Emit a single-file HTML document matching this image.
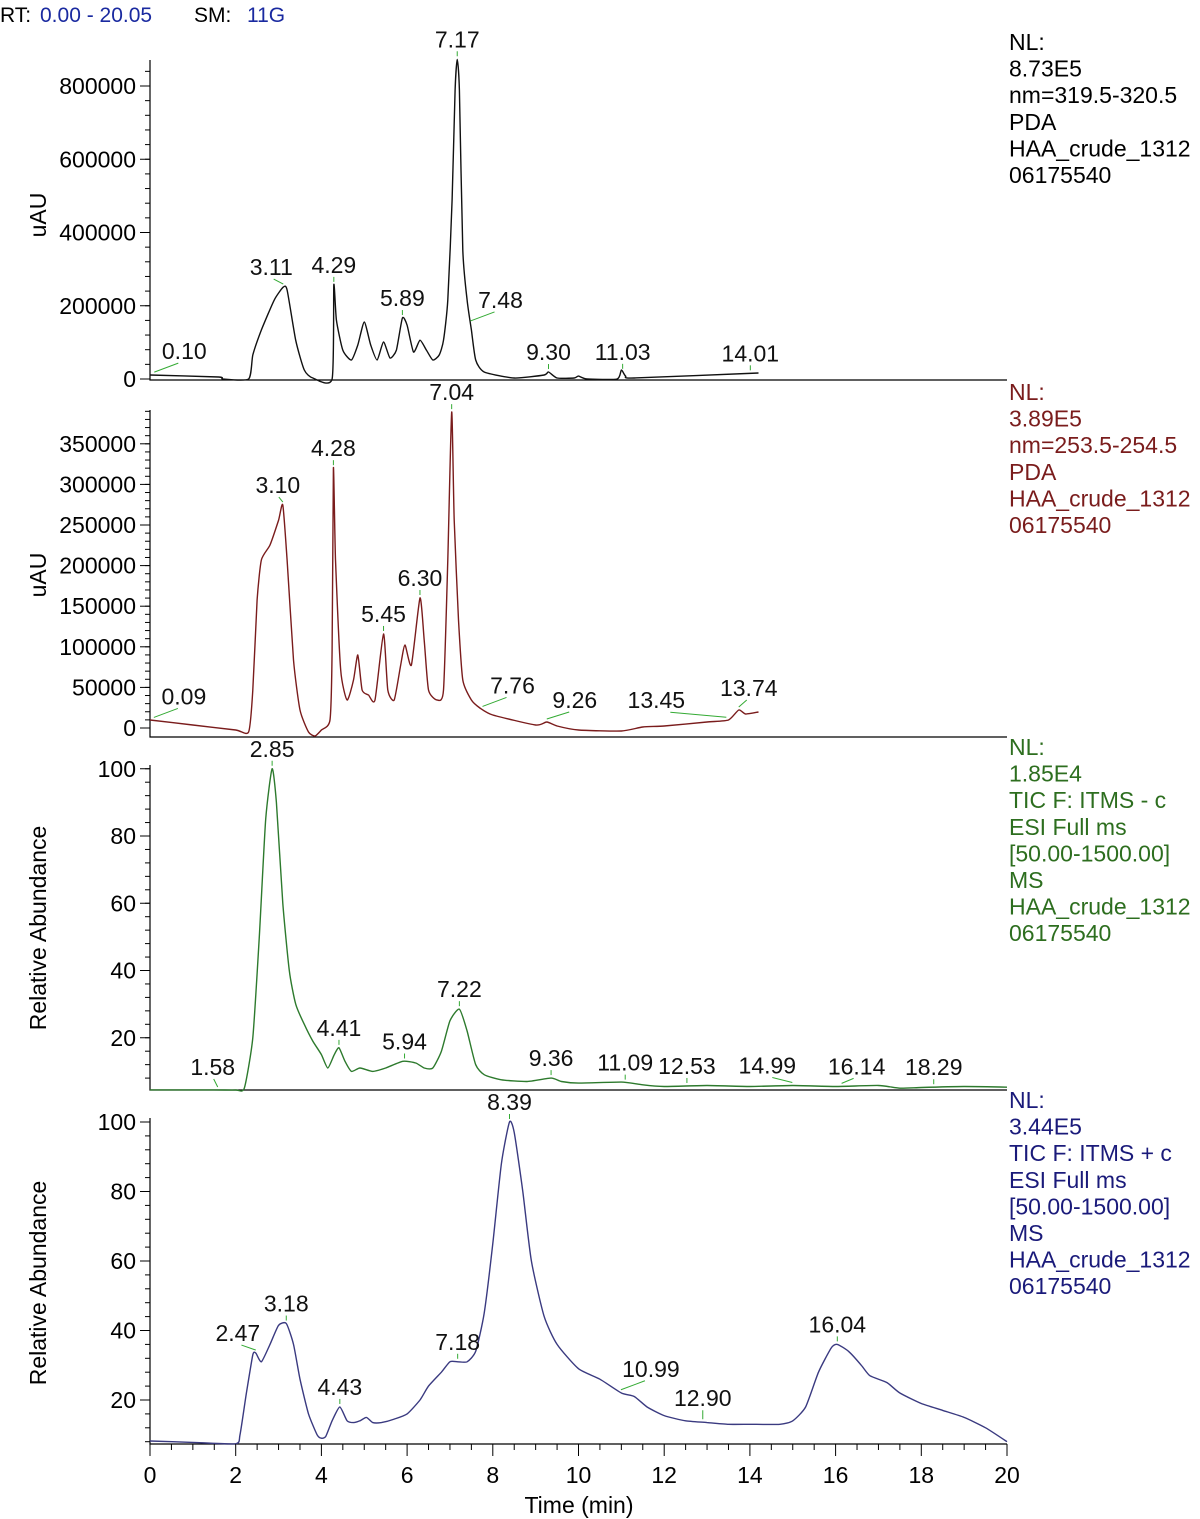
<!DOCTYPE html>
<html><head><meta charset="utf-8"><style>
html,body{margin:0;padding:0;background:#fff;}
svg{display:block;font-family:"Liberation Sans",sans-serif;}
</style></head><body>
<svg id="chart" width="1200" height="1519" viewBox="0 0 1200 1519" xmlns="http://www.w3.org/2000/svg">
<g font-size="21">
<text x="0" y="22" fill="#000">RT:</text><text x="40" y="22" fill="#1a2aa0">0.00 - 20.05</text>
<text x="194" y="22" fill="#000">SM:</text><text x="247" y="22" fill="#1a2aa0">11G</text>
</g>
<g id="g"></g>
</svg>
<script>
// ---- data ----
const trace1T=[0,1.6,1.7,2.3,2.4,2.6,2.9,3.11,3.2,3.4,3.6,3.8,4.25,4.29,4.35,4.5,4.7,4.85,5.0,5.15,5.3,5.45,5.6,5.75,5.89,6.0,6.15,6.3,6.45,6.6,6.75,6.85,6.95,7.05,7.12,7.17,7.22,7.3,7.4,7.5,7.6,7.8,8.5,9.2,9.3,9.5,9.9,10.0,10.2,10.9,11.0,11.1,11.3,14.2];
const trace1V=[11000,5500,0,0,65500,134000,216000,251000,243000,106000,24500,2700,0,257000,161000,79000,51900,92800,155600,92800,51900,101000,57300,79000,166500,147000,73700,106000,79000,51900,65500,106000,216000,488700,789000,873000,789000,352000,216000,134000,51900,19000,2700,11000,19000,2700,2700,8000,0,0,24500,8000,2700,16400];
const trace2T=[0,1,2,2.3,2.4,2.5,2.6,2.8,3.0,3.1,3.2,3.35,3.5,3.7,3.85,4.0,4.2,4.25,4.28,4.33,4.45,4.6,4.75,4.85,4.95,5.1,5.25,5.45,5.55,5.7,5.85,5.95,6.1,6.3,6.4,6.5,6.7,6.85,6.95,7.04,7.1,7.2,7.3,7.5,7.7,8,9,9.26,9.5,10,11,11.5,12,13,13.5,13.74,13.9,14.2];
const trace2V=[9850,3700,-2500,-4900,46800,157600,207000,225400,256000,274600,207000,83700,22200,-4900,-9850,-2500,9850,96000,320000,207000,71400,34500,59100,89900,46800,40600,34500,115800,46800,34500,77600,102200,77600,160100,108000,46800,34500,46800,207000,389000,256000,133000,59100,34500,24600,16000,3700,7400,2500,-2500,-3700,1230,2500,7400,9850,22200,17200,19700];
const trace3T=[0,1.5,2.0,2.2,2.4,2.55,2.7,2.85,2.95,3.1,3.25,3.4,3.6,3.8,4.0,4.15,4.3,4.41,4.55,4.7,4.9,5.2,5.5,5.9,6.2,6.4,6.6,6.8,7.0,7.22,7.4,7.6,7.8,8.2,8.8,9.36,9.6,10,11,11.5,12,13,14,15,16,17,17.5,18,19,20];
const trace3V=[4.5,4.5,4.3,5,20,50,85,100,90,60,40,30,24,19,15,11,15,17,13,10,11,10,11,13,12.5,11,11,16,25,28.5,22,12,9,7.5,7,8,7,6.5,6.8,6,5.5,5.8,5.5,5.8,5.5,5.8,5,5.2,5.5,5.3];
const trace4T=[0,1,2,2.1,2.25,2.4,2.47,2.6,2.8,3.0,3.18,3.35,3.5,3.7,3.9,4.0,4.1,4.25,4.43,4.6,4.75,4.9,5.05,5.2,5.4,5.7,6.0,6.3,6.5,6.8,7.0,7.18,7.4,7.6,7.8,8.0,8.2,8.39,8.5,8.7,8.9,9.2,9.5,10,10.5,11,11.3,11.6,12,12.5,13,13.5,14,14.7,15,15.3,15.6,15.9,16.04,16.3,16.6,16.8,17.2,17.5,18,18.5,19,19.5,20];
const trace4V=[8.2,7.8,7.4,10,22,33,33.5,31,36,41.5,42,36,26,16,10,9,9.5,14,18,14,13.5,14,15,13.5,13.5,14.5,16,20,24,28,31,31,31,34,45,65,88,100,97,80,60,44,36,29,26,22,21,18,15.5,14,13.5,13,13,13,14,18,28,35,36,34,30,27,25,22,19,17,15,12,8];
const labels1=["0.10","3.11","4.29","5.89","7.17","7.48","9.30","11.03","14.01"];
const labels2=["0.09","3.10","4.28","5.45","6.30","7.04","7.76","9.26","13.45","13.74"];
const labels3=["1.58","2.85","4.41","5.94","7.22","9.36","11.09","12.53","14.99","16.14","18.29"];
const labels4=["2.47","3.18","4.43","7.18","8.39","10.99","12.90","16.04"];
const xTicks=[0,2,4,6,8,10,12,14,16,18,20];
const ticks1=[0,200000,400000,600000,800000];
const ticks2=[0,50000,100000,150000,200000,250000,300000,350000];
const ticks3=[20,40,60,80,100];
const ticks4=[20,40,60,80,100];
const info1=["NL:","8.73E5","nm=319.5-320.5","PDA","HAA_crude_1312","06175540"];
const info2=["NL:","3.89E5","nm=253.5-254.5","PDA","HAA_crude_1312","06175540"];
const info3=["NL:","1.85E4","TIC F: ITMS - c","ESI Full ms","[50.00-1500.00]","MS","HAA_crude_1312","06175540"];
const info4=["NL:","3.44E5","TIC F: ITMS + c","ESI Full ms","[50.00-1500.00]","MS","HAA_crude_1312","06175540"];
// label nudges (px) to avoid overlap, keyed by label text
const nudge={"7.48":[30,-4],"13.45":[-70,0],"13.74":[10,-2],"0.10":[30,-4],"0.09":[30,-4],"7.76":[30,-4],"9.26":[28,-2],"14.99":[-25,0],"16.14":[15,0],"10.99":[30,-4],"12.90":[0,-4],"2.47":[-18,0],"1.58":[-5,-3],"3.11":[-12,0],"3.10":[-5,0]};
// ---- drawing ----
const NS="http://www.w3.org/2000/svg";
const G=document.getElementById('g');
function el(tag,attrs,parent){const e=document.createElementNS(NS,tag);for(const k in attrs)e.setAttribute(k,attrs[k]);(parent||G).appendChild(e);return e;}
const X0=150,X1=1007,FS=23;
function xs(t){return X0+(X1-X0)*t/20;}
const panels=[
 {T:trace1T,V:trace1V,labels:labels1,ticks:ticks1,info:info1,color:"#111",infoColor:"#000",top:60,bottom:380,y0:379,yPer:73.25/200000,minor:40000,title:"uAU",titleY:215,name:"pda-320nm"},
 {T:trace2T,V:trace2V,labels:labels2,ticks:ticks2,info:info2,color:"#7a1c1c",infoColor:"#7a1c1c",top:410,bottom:737,y0:728,yPer:40.6/50000,minor:10000,title:"uAU",titleY:575,name:"pda-254nm"},
 {T:trace3T,V:trace3V,labels:labels3,ticks:ticks3,info:info3,color:"#2d7a2d",infoColor:"#2d6e1f",top:765,bottom:1090,y0:1105,yPer:3.3625,minor:4,title:"Relative Abundance",titleY:928,name:"tic-negative"},
 {T:trace4T,V:trace4V,labels:labels4,ticks:ticks4,info:info4,color:"#3a3a80",infoColor:"#1a1a7a",top:1118,bottom:1444,y0:1469.5,yPer:3.475,minor:4,title:"Relative Abundance",titleY:1283,name:"tic-positive"}
];
function interp(T,V,t){for(let i=0;i<T.length-1;i++){if(t>=T[i]&&t<=T[i+1]){const f=(t-T[i])/((T[i+1]-T[i])||1);return V[i]+f*(V[i+1]-V[i]);}}return V[V.length-1];}
function smooth(P){let d="M"+P[0][0].toFixed(1)+","+P[0][1].toFixed(1);const k=0.1;
 for(let i=0;i<P.length-1;i++){const p0=P[Math.max(0,i-1)],p1=P[i],p2=P[i+1],p3=P[Math.min(P.length-1,i+2)];
  const c1=[p1[0]+(p2[0]-p0[0])*k,p1[1]+(p2[1]-p0[1])*k],c2=[p2[0]-(p3[0]-p1[0])*k,p2[1]-(p3[1]-p1[1])*k];
  d+="C"+c1[0].toFixed(1)+","+c1[1].toFixed(1)+" "+c2[0].toFixed(1)+","+c2[1].toFixed(1)+" "+p2[0].toFixed(1)+","+p2[1].toFixed(1);}
 return d;}
panels.forEach((p,pi)=>{
 const g=el('g',{});
 
 
 const ys=v=>Math.min(p.bottom,p.y0-v*p.yPer);
 const ax=el('path',{d:`M${X0},${p.top}V${p.bottom}H${X1}`,stroke:"#000","stroke-width":1.2,fill:"none"},g);
 
 
 for(let v=0;p.y0-v*p.yPer>=p.top;v+=p.minor){const y=p.y0-v*p.yPer;if(y>p.bottom)continue;el('line',{x1:X0-5,x2:X0,y1:y,y2:y,stroke:"#000","stroke-width":1},g);}
 p.ticks.forEach(v=>{const y=p.y0-v*p.yPer;el('line',{x1:X0-10,x2:X0,y1:y,y2:y,stroke:"#000","stroke-width":1},g);
  const t=el('text',{x:X0-14,y:y+8,"text-anchor":"end","font-size":FS,fill:"#000"},g);t.textContent=v;
  
  });
 const tt=el('text',{x:0,y:0,"font-size":FS,"text-anchor":"middle",transform:`translate(46,${p.titleY}) rotate(-90)`,fill:"#000"},g);
 tt.textContent=p.title;
 
 
 const pts=p.T.map((t,i)=>[xs(t),ys(p.V[i])]);
 const tr=el('path',{d:smooth(pts),stroke:p.color,"stroke-width":1.4,fill:"none","stroke-linejoin":"round"},g);
 
 
 p.labels.forEach(l=>{const t=parseFloat(l);const y=ys(interp(p.T,p.V,t));const x=xs(t);const n=nudge[l]||[0,0];
  el('line',{x1:x,y1:y-3,x2:x+n[0]*0.8,y2:y-8+n[1],stroke:"#3a3",'stroke-width':1},g);
  const tx=el('text',{x:x+n[0],y:y-12+n[1],"text-anchor":"middle","font-size":FS,fill:"#111"},g);tx.textContent=l;
  
  });
 p.info.forEach((s,i)=>{const tx=el('text',{x:1009,y:p.top-10+i*26.6,"font-size":FS,fill:p.infoColor},g);tx.textContent=s;
  
  });
});
const xa=el('g',{});


for(let t=0;t<=20.001;t+=0.5){el('line',{x1:xs(t),x2:xs(t),y1:1444,y2:t%2===0?1456:1450,stroke:"#000","stroke-width":1},xa);}
xTicks.forEach(t=>{const tx=el('text',{x:xs(t),y:1483,"text-anchor":"middle","font-size":FS,fill:"#000"},xa);tx.textContent=t;
 
 });
const xt=el('text',{x:579,y:1513,"text-anchor":"middle","font-size":FS,fill:"#000"},xa);xt.textContent="Time (min)";


</script>
</body></html>
